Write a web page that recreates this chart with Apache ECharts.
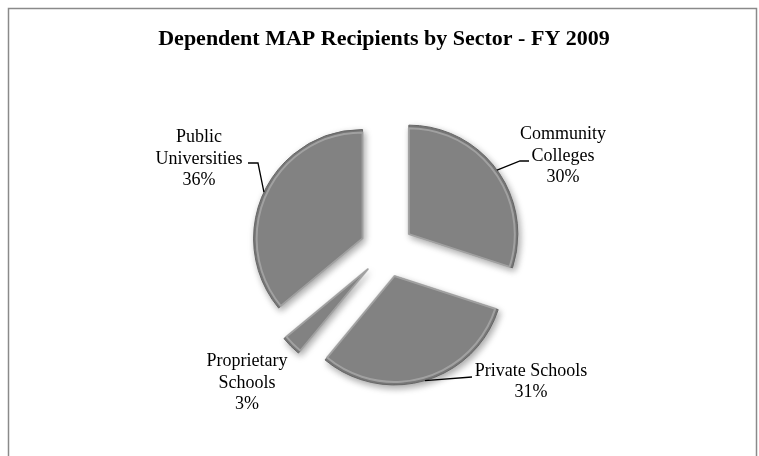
<!DOCTYPE html>
<html>
<head>
<meta charset="utf-8">
<script src="https://cdn.jsdelivr.net/npm/echarts@6/dist/echarts.min.js"></script>
<style>
  html, body { margin: 0; padding: 0; background: #fff; }
  #chart { width: 759px; height: 456px; }
</style>
</head>
<body>
<div id="chart"></div>
<script>
// Sector shares of dependent MAP recipients, FY 2009 (clockwise from 12 o'clock)
const sectors = ['Community\nColleges', 'Private Schools', 'Proprietary\nSchools', 'Public\nUniversities'];
const shares = [30, 31, 3, 36];

// Label text centres and leader-line bends/ends next to each label (px)
const labelSpots = [[563, 156], [531, 382], [247, 383], [199, 159]];
const leaderBends = [[520, 161], null, null, [258, 163]];
const leaderEnds = [[529, 161], [472, 377], null, [248, 163]];

// Pie geometry
const CENTER = [387, 250];
const RADIUS = 109;
const EXPLODE = 27;

const FONT = '"Liberation Serif", "Times New Roman", serif';

const chart = echarts.init(document.getElementById('chart'), null, { renderer: 'canvas' });

const total = shares.reduce((a, b) => a + b, 0);

// point on the exploded rim at the middle of a slice
function rimPoint(i) {
  let before = 0;
  for (let k = 0; k < i; k++) before += shares[k];
  const mid = (before + shares[i] / 2) / total * 2 * Math.PI; // clockwise from top
  const sx = Math.sin(mid), sy = -Math.cos(mid);
  return [CENTER[0] + (EXPLODE + RADIUS) * sx, CENTER[1] + (EXPLODE + RADIUS) * sy];
}

const graphics = [{
  type: 'rect',
  shape: { x: 8.5, y: 8.5, width: 748, height: 470 },
  style: { fill: 'none', stroke: '#8a8a8a', lineWidth: 1.5 },
  silent: true,
  z: -10
}];

sectors.forEach((name, i) => {
  graphics.push({
    type: 'text',
    x: labelSpots[i][0],
    y: labelSpots[i][1],
    z: 20,
    silent: true,
    style: {
      text: name + '\n' + shares[i] + '%',
      font: '18px ' + FONT,
      fill: '#000',
      align: 'center',
      verticalAlign: 'middle',
      lineHeight: 21.5
    }
  });
  if (leaderEnds[i]) {
    const pts = [rimPoint(i)];
    if (leaderBends[i]) pts.push(leaderBends[i]);
    pts.push(leaderEnds[i]);
    graphics.push({
      type: 'polyline',
      z: 20,
      silent: true,
      shape: { points: pts },
      style: { stroke: '#000', lineWidth: 1.3, fill: null }
    });
  }
});

const sliceData = sectors.map((name, i) => ({ name: name, value: shares[i], selected: true }));

chart.setOption({
  animation: false,
  title: {
    text: 'Dependent MAP Recipients by Sector - FY 2009',
    left: 379,
    top: 23,
    textAlign: 'center',
    textStyle: { fontFamily: FONT, fontWeight: 'bold', fontSize: 22, color: '#000' }
  },
  graphic: graphics,
  series: [
    {
      // base slices with outline and drop shadow
      type: 'pie',
      center: CENTER,
      radius: RADIUS,
      startAngle: 90,
      clockwise: true,
      selectedMode: 'multiple',
      selectedOffset: EXPLODE,
      silent: true,
      itemStyle: {
        color: '#7a7a7a',
        borderColor: '#666',
        borderWidth: 1,
        shadowBlur: 7,
        shadowColor: 'rgba(0,0,0,0.35)',
        shadowOffsetX: 2,
        shadowOffsetY: 3
      },
      label: { show: false },
      labelLine: { show: false },
      emphasis: { disabled: true },
      data: sliceData
    },
    {
      // bevel face: lighter rim just inside each slice
      type: 'pie',
      center: CENTER,
      radius: RADIUS - 3,
      startAngle: 90,
      clockwise: true,
      selectedMode: 'multiple',
      selectedOffset: EXPLODE,
      silent: true,
      z: 3,
      itemStyle: {
        color: '#828282',
        borderColor: 'rgba(170,170,170,0.8)',
        borderWidth: 2
      },
      label: { show: false },
      labelLine: { show: false },
      emphasis: { disabled: true },
      data: sliceData
    }
  ]
});
</script>
</body>
</html>
